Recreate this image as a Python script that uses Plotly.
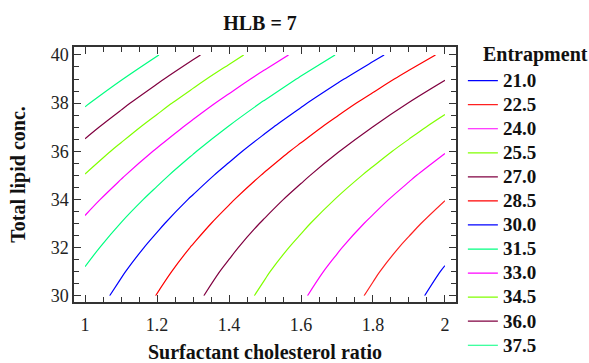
import plotly.graph_objects as go

# Grid (Surfactant cholesterol ratio x Total lipid conc.)
ratio = [1.0, 1.1, 1.2, 1.3, 1.4, 1.5, 1.6, 1.7, 1.8, 1.9, 2.0]
lipid = [30, 31, 32, 33, 34, 35, 36, 37, 38, 39, 40]
entrapment = [
    [30.824, 29.620, 28.454, 27.327, 26.238, 25.188, 24.176, 23.203, 22.268, 21.372, 20.514],
    [31.370, 30.148, 28.965, 27.820, 26.714, 25.646, 24.617, 23.626, 22.674, 21.760, 20.885],
    [32.005, 30.765, 29.565, 28.402, 27.279, 26.193, 25.147, 24.138, 23.169, 22.237, 21.345],
    [32.729, 31.471, 30.254, 29.073, 27.933, 26.829, 25.766, 24.739, 23.753, 22.803, 21.894],
    [33.542, 32.266, 31.032, 29.833, 28.676, 27.554, 26.474, 25.429, 24.426, 23.458, 22.532],
    [34.444, 33.150, 31.899, 30.682, 29.508, 28.368, 27.271, 26.208, 25.188, 24.202, 23.259],
    [35.435, 34.123, 32.855, 31.620, 30.429, 29.271, 28.157, 27.076, 26.039, 25.035, 24.075],
    [36.515, 35.185, 33.900, 32.647, 31.439, 30.263, 29.132, 28.033, 26.979, 25.957, 24.980],
    [37.684, 36.336, 35.034, 33.763, 32.538, 31.344, 30.196, 29.079, 28.008, 26.968, 25.974],
    [38.942, 37.576, 36.257, 34.968, 33.726, 32.514, 31.349, 30.214, 29.126, 28.068, 27.057],
    [40.289, 38.905, 37.569, 36.262, 35.003, 33.773, 32.591, 31.438, 30.333, 29.257, 28.229],
]
levels = [21.0, 22.5, 24.0, 25.5, 27.0, 28.5, 30.0, 31.5, 33.0, 34.5, 36.0, 37.5]
level_labels = ["21.0", "22.5", "24.0", "25.5", "27.0", "28.5", "30.0", "31.5", "33.0", "34.5", "36.0", "37.5"]
level_colors = ["#0000ff", "#ff2020", "#ff00ff", "#80ff00", "#800040", "#ff0000",
                "#0000ff", "#00ff80", "#ff00ff", "#80ff00", "#800040", "#00ff80"]

FONT = "Liberation Serif"
fig = go.Figure()
for lev, lab, col in zip(levels, level_labels, level_colors):
    fig.add_trace(go.Contour(
        x=ratio, y=lipid, z=entrapment,
        contours=dict(start=lev, end=lev, size=1.5, coloring="lines", showlabels=False),
        colorscale=[[0, col], [1, col]], showscale=False, line=dict(width=1.2),
        hoverinfo="skip", showlegend=False,
    ))
    fig.add_trace(go.Scatter(
        x=[None], y=[None], mode="lines",
        name="<span style='font-size:19px'><b>" + lab + "</b></span>",
        line=dict(color=col, width=1.2)))

axis_common = dict(
    showgrid=False, zeroline=False, showline=True, linecolor="#333333", linewidth=1.5,
    mirror="allticks", ticks="inside", ticklen=7, tickcolor="#333333", tickwidth=1,
    tickfont=dict(family=FONT, size=18, color="#222222"),
)
fig.update_xaxes(range=[0.9694, 2.0306], tick0=1, dtick=0.2, ticklabelstandoff=6,
                 minor=dict(dtick=0.05, ticks="inside", ticklen=5, tickcolor="#333333"),
                 title=dict(text="<b>Surfactant cholesterol ratio</b>",
                            font=dict(family=FONT, size=20, color="#111111"), standoff=12),
                 **axis_common)
fig.update_yaxes(range=[29.74, 40.33], tick0=30, dtick=2,
                 minor=dict(dtick=0.5, ticks="inside", ticklen=5, tickcolor="#333333"),
                 title=dict(text="<b>Total lipid conc.</b>",
                            font=dict(family=FONT, size=20, color="#111111"), standoff=20),
                 **axis_common)

fig.update_layout(
    width=589, height=363,
    font=dict(family=FONT, color="#111111"),
    margin=dict(l=74, r=133, t=47, b=61, autoexpand=False),
    paper_bgcolor="white", plot_bgcolor="white",
    title=dict(text="<b>HLB = 7</b>", x=260 / 589, xanchor="center", y=1 - 23 / 363,
               yanchor="middle", font=dict(family=FONT, size=20, color="#111111")),
    legend=dict(x=1.018, y=0.935, xanchor="left", yanchor="top",
                font=dict(family=FONT, size=16.2, color="#111111"),
                bgcolor="rgba(0,0,0,0)", itemwidth=30, tracegroupgap=0, maxheight=420),
    annotations=[dict(text="<b>Entrapment</b>", xref="paper", yref="paper",
                      x=1.065, y=0.969, xanchor="left", yanchor="middle", showarrow=False,
                      font=dict(family=FONT, size=20, color="#111111"))],
)
fig.write_html("out.html")
